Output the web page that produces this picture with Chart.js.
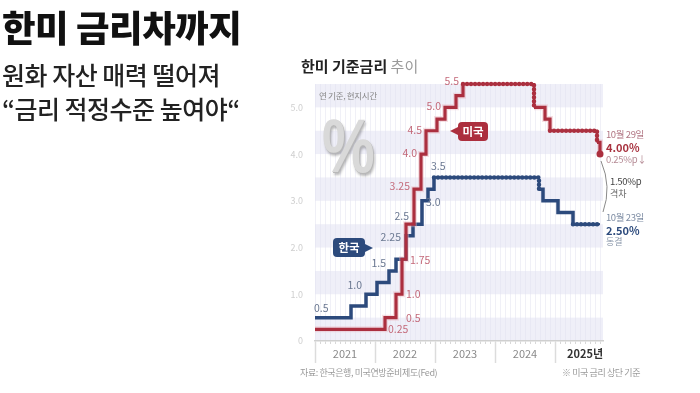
<!DOCTYPE html>
<html><head><meta charset="utf-8">
<script src="https://cdn.jsdelivr.net/npm/chart.js@4.4.0/dist/chart.umd.min.js"></script>
<style>
html,body{margin:0;padding:0;background:#fff;width:700px;height:393px;overflow:hidden;font-family:'Noto Sans CJK KR',sans-serif;}
#wrap{position:relative;width:700px;height:393px;}
canvas{position:absolute;left:0;top:0;}
.t{position:absolute;white-space:nowrap;line-height:1;}
.box{position:absolute;color:#fff;font-weight:700;font-size:11.5px;line-height:18px;text-align:center;border-radius:4px;}
</style></head><body>
<div id="wrap">
<canvas id="c" width="700" height="393"></canvas>
<div class="t" style="left:2px;top:9px;font-size:36.5px;font-weight:900;color:#111;letter-spacing:-0.5px;">한미 금리차까지</div>
<div class="t" style="left:2px;top:62px;font-size:25px;font-weight:500;color:#222;letter-spacing:-0.5px;">원화 자산 매력 떨어져</div>
<div class="t" style="left:2px;top:96px;font-size:25px;font-weight:500;color:#222;letter-spacing:-0.5px;">“금리 적정수준 높여야“</div>
<div class="t" style="left:301px;top:58px;font-size:15px;"><b style="color:#222;">한미 기준금리</b> <span style="color:#9a9a9a;">추이</span></div>
<div class="t" style="left:319px;top:91px;font-size:8.5px;color:#888;letter-spacing:-0.3px;">연 기준, 현지시간</div>
<div class="t" style="left:322px;top:108px;font-size:76px;font-weight:700;font-family:'Liberation Sans',sans-serif;color:#d9d9d9;transform:scaleX(0.78);transform-origin:left top;text-shadow:1px 1px 0 #b8b8b8,2px 3px 3px rgba(0,0,0,0.28);">%</div>
<div class="box" style="left:458px;top:122px;width:30px;height:19px;background:#ac2f3e;">미국</div>
<div style="position:absolute;left:450px;top:127px;width:0;height:0;border-top:4px solid transparent;border-bottom:4px solid transparent;border-right:8px solid #ac2f3e;"></div>
<div class="box" style="left:333px;top:238px;width:32px;height:19px;background:#2c4a7c;">한국</div>
<div style="position:absolute;left:365px;top:244px;width:0;height:0;border-top:4px solid transparent;border-bottom:4px solid transparent;border-left:8px solid #2c4a7c;"></div>
<div class="t" style="left:606px;top:130px;font-size:9.5px;color:#b07482;letter-spacing:-0.4px;">10월 29일</div>
<div class="t" style="left:606px;top:142px;font-size:11px;font-weight:700;color:#a8323f;">4.00%</div>
<div class="t" style="left:606px;top:155px;font-size:9.5px;color:#b58b95;letter-spacing:-0.3px;">0.25%p↓</div>
<svg style="position:absolute;left:0;top:0;" width="700" height="393"><path d="M601 161 Q612 187 603 212" fill="none" stroke="#8a8a8a" stroke-width="1"/></svg>
<div class="t" style="left:610px;top:177px;font-size:9.5px;color:#444;letter-spacing:-0.3px;">1.50%p</div>
<div class="t" style="left:610px;top:189px;font-size:9px;color:#666;">격차</div>
<div class="t" style="left:606px;top:213px;font-size:9.5px;color:#7d8ca3;letter-spacing:-0.4px;">10월 23일</div>
<div class="t" style="left:606px;top:225px;font-size:11px;font-weight:700;color:#2c4a7c;">2.50%</div>
<div class="t" style="left:606px;top:237px;font-size:9px;color:#8a97aa;">동결</div>
<div class="t" style="left:300px;top:368px;font-size:9px;color:#9a9a9a;letter-spacing:-0.4px;">자료: 한국은행, 미국연방준비제도(Fed)</div>
<div class="t" style="left:562px;top:368px;font-size:9px;color:#9a9a9a;letter-spacing:-0.4px;">※ 미국 금리 상단 기준</div>
</div>
<script>
// months since Jan 2021
const usMonths = [0, 14, 16.2, 17.4, 18.2, 19.8, 21.2, 22.2, 24.4, 26.0, 28.2, 29.6, 43.8, 46.0, 47.0, 56.4, 57.0];
const usRates  = [0.25, 0.5, 1.0, 1.75, 2.5, 3.25, 4.0, 4.5, 4.75, 5.0, 5.25, 5.5, 5.0, 4.75, 4.5, 4.25, 4.0];
const krMonths = [0, 7.2, 10.2, 12.4, 14.8, 16.2, 18.2, 19.6, 21.4, 22.6, 23.8, 44.8, 45.6, 48.6, 51.6, 57.0];
const krRates  = [0.5, 0.75, 1.0, 1.25, 1.5, 1.75, 2.25, 2.5, 3.0, 3.25, 3.5, 3.25, 3.0, 2.75, 2.5, 2.5];
const yTicks = [0, 1, 2, 3, 4, 5];
const yearLabels = ['2021', '2022', '2023', '2024', '2025년'];
const bandStarts = [0, 1, 2, 3, 4, 5];

const US = '#ab2f3f', KR = '#2c4a7c';
const pts = (xs, ys) => xs.map((x, i) => ({x, y: ys[i]}));

// label placement style (index into series, anchor at start/end of the flat step)
const usLabelStyle = [
  {i:0, at:'end', dx:3, dy:0, align:'left'},
  {i:1, at:'end', dx:10, dy:0, align:'left'},
  {i:2, at:'end', dx:4, dy:0, align:'left'},
  {i:3, at:'end', dx:4, dy:1, align:'left'},
  {i:5, at:'start', dx:-4, dy:-3, align:'right'},
  {i:6, at:'start', dx:-4, dy:-1, align:'right'},
  {i:7, at:'start', dx:-4, dy:-1, align:'right'},
  {i:9, at:'start', dx:-4, dy:-1, align:'right'},
  {i:11, at:'start', dx:-4, dy:-3, align:'right'}
];
const krLabelStyle = [
  {i:0, at:'start', dx:-1, dy:-10, align:'left'},
  {i:2, at:'start', dx:-4, dy:-9, align:'right'},
  {i:4, at:'start', dx:-3, dy:-8, align:'right'},
  {i:6, at:'start', dx:-5, dy:1, align:'right'},
  {i:7, at:'start', dx:-4, dy:-8, align:'right'},
  {i:8, at:'start', dx:4, dy:1, align:'left'},
  {i:10, at:'start', dx:-3, dy:-11, align:'left'}
];

const isHold = ctx => ctx.p0.parsed.x > 23 && (ctx.p1.parsed.x - ctx.p0.parsed.x) > 4;
const fmt = v => (Math.round(v * 100) % 10 === 0 ? v.toFixed(1) : v.toFixed(2));

const decor = {
  id: 'decor',
  beforeDraw(chart) {
    const {ctx, chartArea: a, scales: {x, y}} = chart;
    ctx.save();
    ctx.fillStyle = '#efeff8';
    bandStarts.forEach(k => {
      const y0 = y.getPixelForValue(k), y1 = y.getPixelForValue(k + 0.5);
      ctx.fillRect(a.left, y1, a.right - a.left, y0 - y1);
    });
    ctx.restore();
  },
  afterDraw(chart) {
    const {ctx, chartArea: a, scales: {x, y}} = chart;
    ctx.save();
    ctx.strokeStyle = '#dcdcdc'; ctx.lineWidth = 1.5;
    for (let m = 0; m <= 48; m += 12) {
      const px = Math.round(x.getPixelForValue(m)) + 0.5;
      ctx.beginPath(); ctx.moveTo(px, a.bottom + 1); ctx.lineTo(px, a.bottom + 22); ctx.stroke();
    }
    ctx.font = '10.5px "Noto Sans CJK KR"';
    ctx.textBaseline = 'middle';
    const drawLabels = (months, rates, style, color) => {
      ctx.fillStyle = color;
      style.forEach(s => {
        const xm = s.at === 'end' ? months[s.i + 1] : months[s.i];
        const px = x.getPixelForValue(xm) + s.dx;
        const py = y.getPixelForValue(rates[s.i]) + s.dy;
        ctx.textAlign = s.align;
        ctx.fillText(fmt(rates[s.i]), px, py);
      });
    };
    drawLabels(usMonths, usRates, usLabelStyle, '#c46a7a');
    drawLabels(krMonths, krRates, krLabelStyle, '#6a7891');
    // end dot of US series
    const n = usMonths.length - 1;
    ctx.fillStyle = US;
    ctx.beginPath();
    ctx.arc(x.getPixelForValue(usMonths[n]), y.getPixelForValue(usRates[n]), 3.5, 0, Math.PI * 2);
    ctx.fill();
    ctx.restore();
  }
};

new Chart(document.getElementById('c'), {
  type: 'line',
  data: {
    datasets: [
      {data: pts(usMonths, usRates), borderColor: US, borderWidth: 4.5, borderDash: [0.01, 4], borderCapStyle: 'round',
        stepped: true, pointRadius: 0, clip: 8,
        segment: {borderColor: c => isHold(c) ? US : 'rgba(0,0,0,0)'}},
      {data: pts(usMonths, usRates), borderColor: US, borderWidth: 3.2, stepped: true, pointRadius: 0, clip: 8,
        segment: {borderWidth: c => isHold(c) ? 2.2 : 3.2}},
      {data: pts(usMonths, usRates), borderColor: 'rgba(232,178,188,0.4)', borderWidth: 6, stepped: true, pointRadius: 0, clip: 8,
        segment: {borderColor: c => isHold(c) ? 'rgba(0,0,0,0)' : 'rgba(232,178,188,0.4)'}},
      {data: pts(krMonths, krRates), borderColor: KR, borderWidth: 4.5, borderDash: [0.01, 4], borderCapStyle: 'round',
        stepped: true, pointRadius: 0, clip: 8,
        segment: {borderColor: c => isHold(c) ? KR : 'rgba(0,0,0,0)'}},
      {data: pts(krMonths, krRates), borderColor: KR, borderWidth: 3.5, stepped: true, pointRadius: 0, clip: 8,
        segment: {borderWidth: c => isHold(c) ? 2.2 : 3.5}}
    ]
  },
  options: {
    responsive: false, animation: false, events: [],
    layout: {padding: {left: 290, top: 84, right: 97, bottom: 0}},
    plugins: {legend: {display: false}, tooltip: {enabled: false}},
    scales: {
      x: {
        type: 'linear', min: 0, max: 57.6,
        afterBuildTicks: s => { s.ticks = Array.from({length: 58}, (_, m) => ({value: m})); },
        afterFit: s => { s.height = 52; },
        grid: {color: 'rgba(226,226,240,0.5)', lineWidth: 1, drawTicks: true, tickLength: 3, tickColor: '#d8d8d8'},
        border: {color: '#cfcfcf', width: 1.5},
        ticks: {
          autoSkip: false, maxRotation: 0, padding: 3,
          callback: v => (v % 12 === 6 ? yearLabels[(v - 6) / 12] : ''),
          color: c => (c.tick && c.tick.value === 54 ? '#333' : '#8a8a8a'),
          font: c => ({family: 'Noto Sans CJK KR', size: 11, weight: (c.tick && c.tick.value === 54) ? 'bold' : 'normal'})
        }
      },
      y: {
        min: 0, max: 5.5,
        afterBuildTicks: s => { s.ticks = yTicks.map(v => ({value: v})); },
        afterFit: s => { s.width = 25; },
        grid: {display: false},
        border: {display: false},
        ticks: {padding: 4, color: '#cfcfcf', font: {family: 'Noto Sans CJK KR', size: 9},
          callback: v => (v === 0 ? '0' : v.toFixed(1))}
      }
    }
  },
  plugins: [decor]
});
</script>
</body></html>
